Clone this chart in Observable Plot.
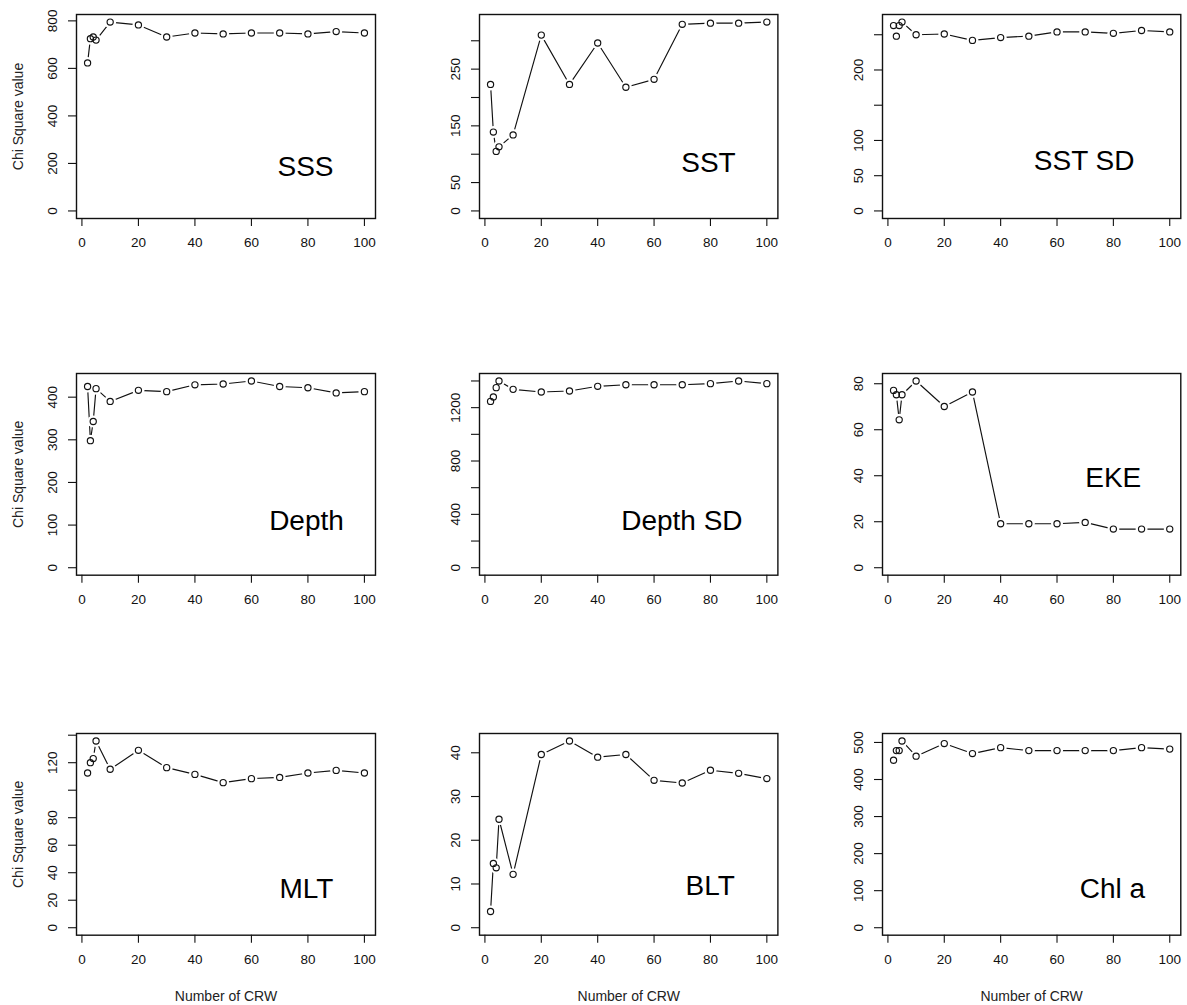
<!DOCTYPE html>
<html>
<head>
<meta charset="utf-8">
<script src="https://cdn.jsdelivr.net/npm/d3@7"></script>
<script src="https://cdn.jsdelivr.net/npm/@observablehq/plot@0.6"></script>
<style>
  html, body { margin: 0; padding: 0; background: #fff; overflow: hidden; }
  #chart { position: relative; width: 1187px; height: 1005px; overflow: hidden; background: #fff; }
  #chart > div { position: absolute; }
  svg { overflow: visible; }
</style>
</head>
<body>
<div id="chart"></div>
<script>
// ---- Data ----
const crw = [2, 3, 4, 5, 10, 20, 30, 40, 50, 60, 70, 80, 90, 100];

const sss     = [623, 725, 732, 719, 795, 783, 732, 749, 745, 749, 749, 745, 755, 749];
const sst     = [223, 139, 105, 113, 134, 310, 223, 296, 218, 232, 329, 331, 331, 333];
const sstSD   = [263, 248, 263, 268, 250, 251, 242, 246, 248, 254, 254, 252, 256, 254];
const depth   = [425, 298, 343, 420, 390, 416, 413, 429, 431, 438, 425, 422, 410, 413];
const depthSD = [1247, 1280, 1350, 1400, 1337, 1317, 1325, 1360, 1372, 1372, 1372, 1380, 1400, 1380];
const eke     = [77.1, 75.2, 64.3, 75.2, 81.2, 70.1, 76.4, 19.1, 19.1, 19.1, 19.7, 16.8, 16.8, 16.8];
const mlt     = [112.5, 120, 123, 135.8, 115.2, 129, 116.4, 111.5, 105.5, 108.4, 109.3, 112.5, 114.4, 112.5];
const blt     = [3.7, 14.7, 13.7, 24.8, 12.2, 39.6, 42.7, 39.0, 39.6, 33.7, 33.1, 36.0, 35.3, 34.1];
const chla    = [452, 478, 478, 504, 463, 497, 470, 486, 478, 478, 478, 478, 486, 482];

const panelNames = ["SSS", "SST", "SST SD", "Depth", "Depth SD", "EKE", "MLT", "BLT", "Chl a"];
const panelSeries = [sss, sst, sstSD, depth, depthSD, eke, mlt, blt, chla];

const xTicks = [0, 20, 40, 60, 80, 100];
const yTicks = [
  [0, 200, 400, 600, 800],
  [0, 50, 100, 150, 200, 250, 300],
  [0, 50, 100, 150, 200, 250],
  [0, 100, 200, 300, 400],
  [0, 200, 400, 600, 800, 1000, 1200, 1400],
  [0, 20, 40, 60, 80],
  [0, 20, 40, 60, 80, 100, 120, 140],
  [0, 10, 20, 30, 40],
  [0, 100, 200, 300, 400, 500]
];
const yTickLabels = [
  [0, 200, 400, 600, 800],
  [0, 50, 150, 250],
  [0, 50, 100, 200],
  [0, 100, 200, 300, 400],
  [0, 400, 800, 1200],
  [0, 20, 40, 60, 80],
  [0, 20, 40, 60, 80, 120],
  [0, 10, 20, 30, 40],
  [0, 100, 200, 300, 400, 500]
];
const yTitle = "Chi Square value";
const xTitle = "Number of CRW";

// ---- Layout (styles / positions) ----
const colBox = [[76, 375], [479.3, 777.7], [881.7, 1180]];
const rowBox = [[14.3, 218.3], [373.3, 575], [733.3, 935]];
const labelOffset = [
  [-70, -43], [-69.4, -46], [-96.7, -48],
  [-69, -45], [-96, -45], [-67.5, -88],
  [-69, -37], [-67.7, -40], [-68.3, -37]
];
const mL = 76, mR = 7, mT = 10, mB = 70;
const font = "'Liberation Sans', Arial, Helvetica, sans-serif";

const chart = document.getElementById("chart");

panelNames.forEach((name, i) => {
  const col = i % 3, row = Math.floor(i / 3);
  const [bl, br] = colBox[col];
  const [bt, bb] = rowBox[row];
  const values = panelSeries[i];
  const data = crw.map((x, j) => ({x, y: values[j]}));
  const ymax = d3.max(values);
  const xmin = d3.min(crw), xmax = d3.max(crw);
  const xpad = 0.04 * (xmax - xmin);
  const labels = new Set(yTickLabels[i]);

  const marks = [
    Plot.axisX({ticks: xTicks, tickSize: 8, tickPadding: 11, label: null, fontSize: 13.5, stroke: "#111", fill: "#111", strokeWidth: 1.1}),
    Plot.axisY({ticks: yTicks[i], tickSize: 8, tickPadding: 12, tickRotate: -90, textAnchor: "middle", lineAnchor: "bottom",
                tickFormat: d => labels.has(d) ? String(d) : "", label: null, fontSize: 13.5, stroke: "#111", fill: "#111", strokeWidth: 1.1}),
    Plot.line(data, {x: "x", y: "y", stroke: "#111", strokeWidth: 1.15}),
    Plot.dot(data, {x: "x", y: "y", r: 6, fill: "#fff", stroke: null}),
    Plot.dot(data, {x: "x", y: "y", r: 3.1, fill: "none", stroke: "#111", strokeWidth: 1.15}),
    Plot.frame({stroke: "#111", strokeWidth: 1.4}),
    Plot.text([name], {frameAnchor: "bottom-right", text: d => d, textAnchor: "middle", lineAnchor: "bottom",
                       dx: labelOffset[i][0], dy: labelOffset[i][1], fontSize: 28, fill: "#000"})
  ];
  if (col === 0) {
    marks.push(Plot.text([yTitle], {frameAnchor: "left", text: d => d, rotate: -90, textAnchor: "middle",
                                    lineAnchor: "middle", dx: -58, fontSize: 14, fill: "#222"}));
  }
  if (row === 2) {
    marks.push(Plot.text([xTitle], {frameAnchor: "bottom", text: d => d, textAnchor: "middle",
                                    lineAnchor: "middle", dy: 61, fontSize: 14, fill: "#222"}));
  }

  const plot = Plot.plot({
    width: (br - bl) + mL + mR,
    height: (bb - bt) + mT + mB,
    marginLeft: mL, marginRight: mR, marginTop: mT, marginBottom: mB,
    x: {domain: [xmin - xpad, xmax + xpad]},
    y: {domain: [-0.04 * ymax, 1.04 * ymax]},
    style: {fontFamily: font, fontSize: "13.5px", color: "#111", background: "transparent", overflow: "visible"},
    marks
  });
  const wrap = document.createElement("div");
  wrap.style.left = (bl - mL) + "px";
  wrap.style.top = (bt - mT) + "px";
  wrap.appendChild(plot);
  chart.appendChild(wrap);
});
</script>
</body>
</html>
